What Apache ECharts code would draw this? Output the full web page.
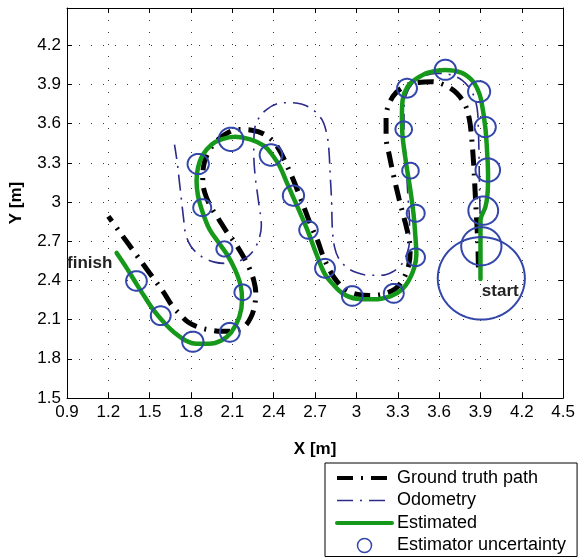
<!DOCTYPE html>
<html>
<head>
<meta charset="utf-8">
<script src="https://cdn.jsdelivr.net/npm/echarts@6/dist/echarts.min.js"></script>
<style>
html,body{margin:0;padding:0;background:#fff;}
#chart{width:578px;height:560px;}
</style>
</head>
<body>
<div id="chart"></div>
<script>
// ---------------- data ----------------
const xTicks = [0.9, 1.2, 1.5, 1.8, 2.1, 2.4, 2.7, 3, 3.3, 3.6, 3.9, 4.2, 4.5];
const yTicks = [1.5, 1.8, 2.1, 2.4, 2.7, 3, 3.3, 3.6, 3.9, 4.2];

const groundTruthPath = [
  [3.885,2.5],[3.88,2.7],[3.87,2.9],[3.86,3.1],[3.85,3.3],[3.835,3.5],[3.82,3.63],[3.79,3.74],
  [3.73,3.83],[3.65,3.89],[3.55,3.92],[3.45,3.915],[3.36,3.89],[3.29,3.84],[3.24,3.76],[3.215,3.65],
  [3.215,3.5],[3.24,3.35],[3.27,3.2],[3.31,3.02],[3.345,2.88],[3.375,2.75],[3.39,2.64],[3.38,2.52],
  [3.34,2.41],[3.28,2.335],[3.19,2.295],[3.1,2.285],[3.0,2.295],[2.92,2.33],[2.86,2.39],[2.81,2.47],
  [2.76,2.58],[2.72,2.7],[2.67,2.82],[2.63,2.93],[2.59,3.04],[2.55,3.15],[2.5,3.27],[2.45,3.38],
  [2.4,3.46],[2.33,3.52],[2.24,3.55],[2.14,3.555],[2.05,3.52],[1.97,3.45],[1.92,3.37],[1.89,3.27],
  [1.885,3.16],[1.9,3.07],[1.94,2.97],[2.0,2.87],[2.06,2.77],[2.11,2.7],[2.17,2.6],[2.22,2.5],
  [2.255,2.4],[2.27,2.3],[2.26,2.2],[2.235,2.12],[2.19,2.05],[2.12,2.015],[2.02,2.01],[1.94,2.02],
  [1.86,2.04],[1.78,2.08],[1.72,2.14],[1.66,2.21],[1.6,2.31],[1.5,2.455],[1.4,2.6],[1.3,2.745],[1.2,2.89]
];

const odometryPath = [
  [3.9,2.42],[3.9,2.7],[3.895,3.0],[3.89,3.3],[3.885,3.55],[3.875,3.72],[3.84,3.84],[3.77,3.93],
  [3.68,3.975],[3.58,3.985],[3.48,3.96],[3.41,3.91],[3.365,3.83],[3.345,3.7],[3.345,3.55],[3.355,3.4],
  [3.365,3.2],[3.375,3.02],[3.385,2.85],[3.385,2.7],[3.365,2.6],[3.325,2.52],[3.26,2.465],[3.18,2.44],
  [3.09,2.44],[3.0,2.46],[2.93,2.5],[2.87,2.57],[2.84,2.66],[2.825,2.8],[2.82,3.0],[2.81,3.2],
  [2.8,3.4],[2.785,3.52],[2.75,3.63],[2.68,3.71],[2.6,3.75],[2.5,3.76],[2.42,3.75],[2.35,3.71],
  [2.29,3.64],[2.26,3.55],[2.255,3.38],[2.265,3.2],[2.29,3.0],[2.31,2.82],[2.28,2.68],[2.22,2.59],
  [2.14,2.545],[2.06,2.53],[1.97,2.54],[1.88,2.58],[1.8,2.66],[1.76,2.76],[1.745,2.88],[1.73,3.02],
  [1.715,3.16],[1.7,3.3],[1.68,3.44]
];

const estimatedPath = [
  [3.9,2.41],[3.9,2.62],[3.9,2.86],[3.935,2.96],[3.95,3.05],[3.955,3.2],[3.95,3.35],[3.935,3.57],
  [3.905,3.78],[3.88,3.86],[3.84,3.93],[3.76,3.99],[3.64,4.01],[3.52,3.99],[3.43,3.94],[3.37,3.88],
  [3.335,3.78],[3.33,3.65],[3.335,3.5],[3.36,3.3],[3.39,3.1],[3.415,2.9],[3.43,2.7],[3.435,2.6],
  [3.42,2.5],[3.38,2.4],[3.33,2.33],[3.25,2.28],[3.13,2.255],[3.0,2.26],[2.9,2.3],[2.83,2.37],
  [2.77,2.45],[2.71,2.6],[2.65,2.77],[2.59,2.92],[2.54,3.04],[2.49,3.16],[2.445,3.27],[2.39,3.36],
  [2.33,3.43],[2.23,3.48],[2.12,3.5],[2.02,3.48],[1.95,3.44],[1.885,3.36],[1.85,3.26],[1.84,3.16],
  [1.85,3.05],[1.875,2.95],[1.93,2.8],[2.0,2.69],[2.06,2.6],[2.12,2.48],[2.16,2.36],[2.17,2.25],
  [2.15,2.12],[2.09,2.0],[2.02,1.94],[1.93,1.915],[1.84,1.915],[1.76,1.94],[1.68,2.0],[1.61,2.07],
  [1.53,2.17],[1.46,2.28],[1.4,2.38],[1.33,2.5],[1.26,2.61]
];

const uncX = [3.906,3.906,3.92,3.953,3.934,3.89,3.645,3.367,3.343,3.392,3.43,3.43,3.271,2.97,2.772,2.652,2.543,2.38,2.09,1.852,1.881,2.042,2.175,2.081,1.813,1.58,1.404];
const uncY = [2.416,2.662,2.934,3.245,3.574,3.845,4.012,3.871,3.557,3.24,2.914,2.577,2.301,2.281,2.493,2.786,3.049,3.36,3.48,3.291,2.957,2.641,2.309,2.003,1.931,2.13,2.396];
const uncR = [0.316,0.146,0.108,0.089,0.077,0.08,0.077,0.072,0.06,0.06,0.065,0.067,0.072,0.075,0.072,0.067,0.077,0.082,0.089,0.077,0.065,0.058,0.06,0.072,0.077,0.072,0.075];

const annoText = ['finish', 'start'];
const annoX = [0.9, 3.91];
const annoY = [2.533, 2.32];

const seriesNames = ['Ground truth path', 'Odometry', 'Estimated', 'Estimator uncertainty'];

// ---------------- chart ----------------
const FONT = '"Liberation Sans", Arial, Helvetica, sans-serif';
const fmt = v => String(+(+v).toFixed(2));
const chart = echarts.init(document.getElementById('chart'), null, {renderer: 'canvas'});

const tickStyle = {show: true, inside: true, length: 5, lineStyle: {color: '#000', width: 1}};
const lineAx = {show: true, onZero: false, lineStyle: {color: '#000', width: 1}};
const gridLine = {show: true, lineStyle: {color: '#333', width: 1, type: [1, 11]}};

const circleColor = '#3346aa';
const hiddenMarker = {opacity: 0, color: 'transparent', borderWidth: 0};

const option = {
  animation: false,
  backgroundColor: '#fff',
  textStyle: {fontFamily: FONT},
  grid: {left: 66, right: 14, top: 8, bottom: 162, containLabel: false},
  legend: {
    orient: 'vertical',
    left: 325, top: 463, height: 120,
    padding: [6, 11, 2, 10],
    itemGap: 4.5,
    itemWidth: 55, itemHeight: 14,
    borderColor: '#000', borderWidth: 1, borderRadius: 0,
    backgroundColor: '#fff',
    selectedMode: false,
    textStyle: {fontFamily: FONT, fontSize: 18, color: '#000', lineHeight: 17},
    data: [
      {name: seriesNames[0], itemStyle: hiddenMarker, lineStyle: {width: 4}},
      {name: seriesNames[1], itemStyle: hiddenMarker, lineStyle: {width: 1.6}},
      {name: seriesNames[2], itemStyle: hiddenMarker, lineStyle: {width: 4}},
      {name: seriesNames[3], icon: 'circle', itemStyle: {color: '#fff', borderColor: circleColor, borderWidth: 1.5}}
    ]
  },
  xAxis: [{
    type: 'value', min: xTicks[0], max: xTicks[xTicks.length - 1], interval: 0.3,
    position: 'bottom',
    axisLine: lineAx, axisTick: tickStyle, splitLine: gridLine,
    axisLabel: {color: '#000', fontSize: 17, fontFamily: FONT, margin: 6, formatter: fmt},
    name: 'X [m]', nameLocation: 'middle', nameGap: 43,
    nameTextStyle: {color: '#000', fontSize: 17, fontWeight: 'bold', fontFamily: FONT}
  }, {
    type: 'value', min: xTicks[0], max: xTicks[xTicks.length - 1], interval: 0.3,
    position: 'top',
    axisLine: lineAx, axisTick: tickStyle, splitLine: {show: false}, axisLabel: {show: false}
  }],
  yAxis: [{
    type: 'value', min: yTicks[0], max: 4.485, interval: 0.3,
    position: 'left',
    axisLine: lineAx, axisTick: tickStyle, splitLine: gridLine,
    axisLabel: {color: '#000', fontSize: 17, fontFamily: FONT, margin: 6,
      formatter: v => (v > yTicks[yTicks.length - 1] + 0.01 ? '' : fmt(v))},
    name: 'Y [m]', nameLocation: 'middle', nameGap: 42,
    nameTextStyle: {color: '#000', fontSize: 17, fontWeight: 'bold', fontFamily: FONT}
  }, {
    type: 'value', min: yTicks[0], max: 4.485, interval: 0.3,
    position: 'right',
    axisLine: lineAx, axisTick: tickStyle, splitLine: {show: false}, axisLabel: {show: false}
  }],
  series: [
    {
      name: seriesNames[0], type: 'line', data: groundTruthPath, showSymbol: false, symbol: 'none',
      smooth: 0.35, z: 2,
      lineStyle: {color: '#000', width: 5, type: [16, 8, 2, 8], cap: 'butt'},
      itemStyle: {color: '#000'}
    },
    {
      name: seriesNames[1], type: 'line', data: odometryPath, showSymbol: false, symbol: 'none',
      smooth: 0.35, z: 3,
      lineStyle: {color: '#2b2b8c', width: 1.6, type: [16, 7, 2, 7]},
      itemStyle: {color: '#2b2b8c'}
    },
    {
      name: seriesNames[2], type: 'line', data: estimatedPath, showSymbol: false, symbol: 'none',
      smooth: 0.35, z: 4,
      lineStyle: {color: '#16981a', width: 4.5, cap: 'round', join: 'round'},
      itemStyle: {color: '#16981a'}
    },
    {
      name: seriesNames[3], type: 'custom', z: 5,
      itemStyle: {color: circleColor},
      data: uncX.map((x, i) => [x, uncY[i], uncR[i]]),
      encode: {x: 0, y: 1},
      renderItem: function (params, api) {
        const cx = api.value(0), cy = api.value(1), r = api.value(2);
        const pts = [];
        for (let k = 0; k < 72; k++) {
          const t = k / 72 * Math.PI * 2;
          pts.push(api.coord([cx + r * Math.cos(t), cy + r * Math.sin(t)]));
        }
        return {type: 'polygon', shape: {points: pts},
          style: {fill: 'none', stroke: circleColor, lineWidth: 2}};
      }
    },
    {
      name: 'annotations', type: 'custom', z: 6,
      data: annoX.map((x, i) => [x, annoY[i], i]),
      encode: {x: 0, y: 1},
      renderItem: function (params, api) {
        const p = api.coord([api.value(0), api.value(1)]);
        return {type: 'text', x: p[0], y: p[1],
          style: {text: annoText[api.value(2)], fill: '#222', font: 'bold 17px ' + FONT,
            textAlign: 'left', textVerticalAlign: 'middle'}};
      }
    }
  ]
};
chart.setOption(option);
</script>
</body>
</html>
